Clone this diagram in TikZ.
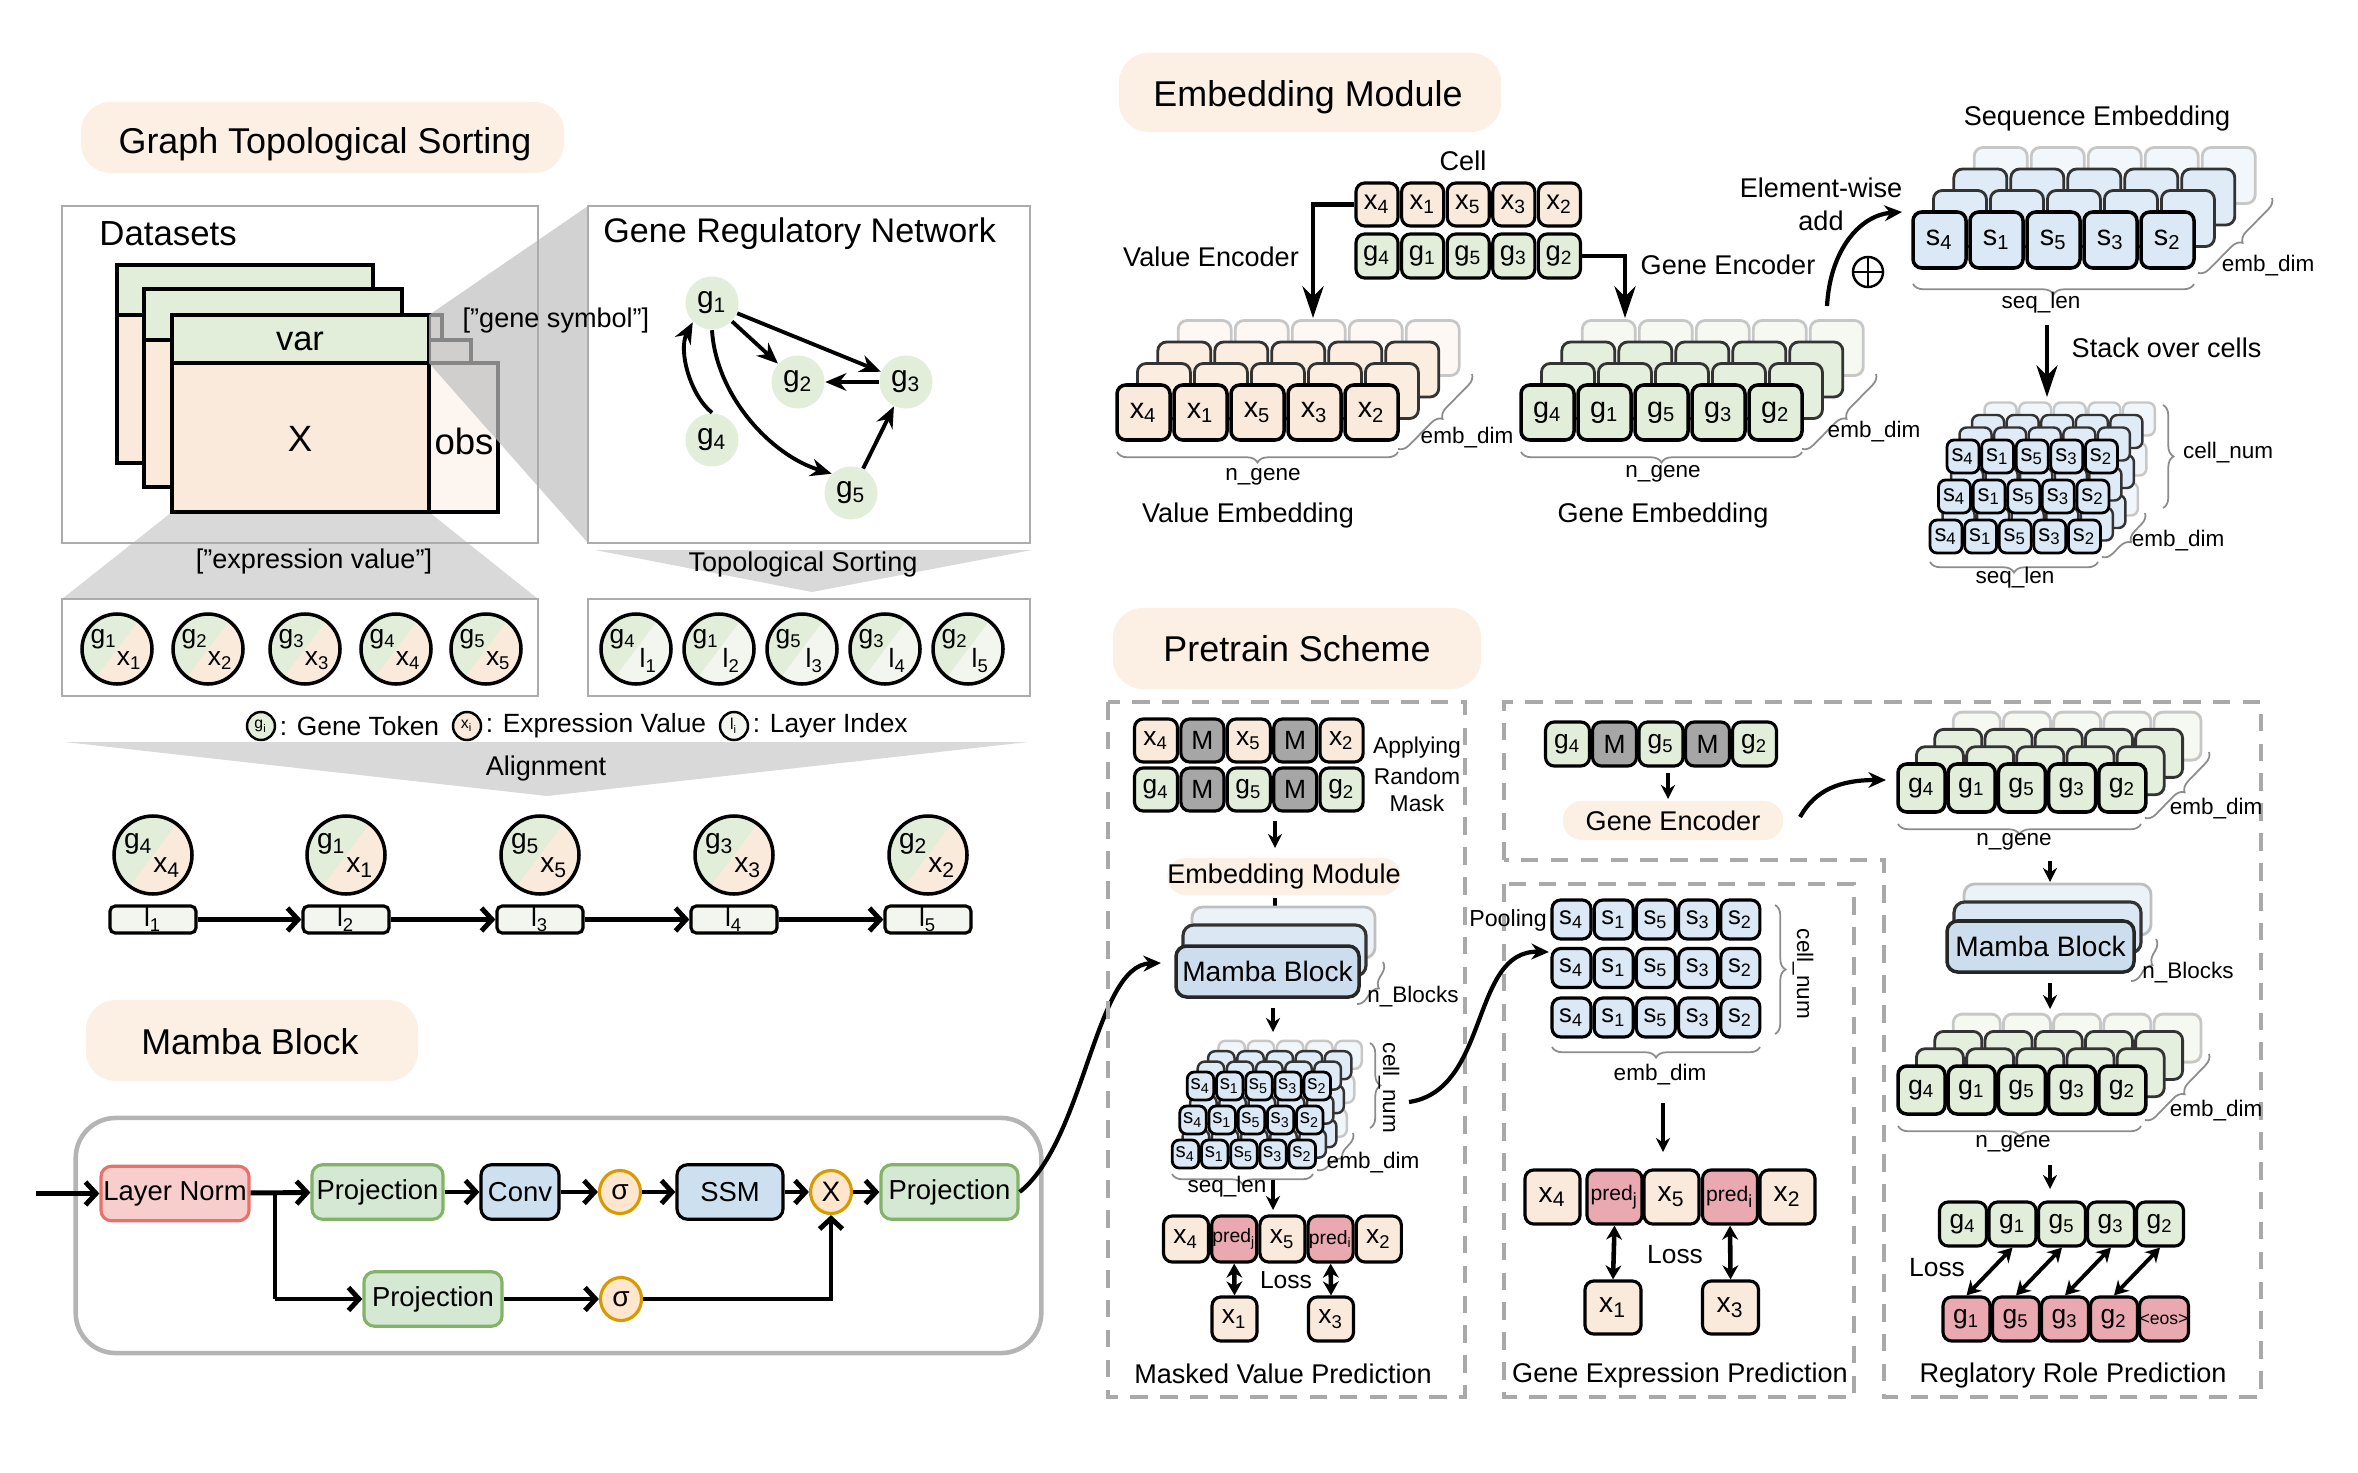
\documentclass[tikz,border=0pt]{standalone}
\usepackage{fontspec}
\setmainfont{Liberation Sans}
\usetikzlibrary{arrows.meta,shapes.geometric,decorations.pathreplacing}
\newcommand\fsz[1]{\fontsize{#1}{#1}\selectfont}
\definecolor{cPch}{HTML}{FAEADC}
\definecolor{cPill}{HTML}{FCEFE3}
\definecolor{cGrn}{HTML}{E2EDDA}
\definecolor{cLgr}{HTML}{F2F6EE}
\definecolor{cBlu}{HTML}{DBE8F5}
\definecolor{cPnk}{HTML}{EAA8B1}
\definecolor{cMsk}{HTML}{A6A6A6}
\definecolor{cObs}{HTML}{FDF5EF}
\definecolor{cFun}{HTML}{D9D9D9}
\definecolor{cBox}{HTML}{ACACAC}
\definecolor{cLnF}{HTML}{F8CECC}
\definecolor{cLnD}{HTML}{E8716C}
\definecolor{cPjF}{HTML}{D5E8D4}
\definecolor{cPjD}{HTML}{82B366}
\definecolor{cCvF}{HTML}{CCE0EF}
\definecolor{cSgF}{HTML}{FFE6CC}
\definecolor{cSgD}{HTML}{D79B00}
\definecolor{cMbF}{HTML}{CCDEEE}
\definecolor{cDash}{HTML}{A9A9A9}
\tikzset{
  lbl/.style={font=\fsz{7.7}},
  sml/.style={font=\fsz{6.4}},
  pillbox/.style={fill=cPill, rounded corners=0.3cm},
  ttl/.style={font=\fsz{10.2}},
  gbox/.style={draw=cBox, line width=0.75pt},
  card/.style={draw=black, line width=1.1pt},
  tok/.style={draw=black, line width=0.9pt, rounded corners=2.5pt, inner sep=0pt},
  grnode/.style={circle, fill=cGrn, minimum size=0.53cm, inner sep=0pt, font=\fsz{8.5}},
  grarr/.style={line width=1.1pt, -{Stealth[length=6pt,width=5pt]}},
  hvarr/.style={line width=1.4pt, line join=miter, -{Straight Barb[length=3pt,width=6.5pt]}},
  blk/.style={rounded corners=3pt, line width=0.9pt, minimum height=0.545cm, inner sep=0pt, font=\fsz{7.8}},
  sig/.style={ellipse, draw=cSgD, fill=cSgF, line width=0.9pt, minimum width=0.41cm, minimum height=0.43cm, inner sep=0pt, font=\fsz{8}},
  encarr/.style={line width=1.2pt, -{Stealth[length=9pt,width=6pt]}},
  darr/.style={line width=0.9pt, -{Stealth[length=4pt,width=4pt]}},
  dbl/.style={line width=1.3pt, {Stealth[length=4pt,width=4.5pt]}-{Stealth[length=4pt,width=4.5pt]}},
  brc/.style={decorate, decoration={brace, amplitude=3pt}, draw=black!45, line width=0.5pt},
  dbox/.style={draw=cDash, line width=1pt, dash pattern=on 5pt off 3.5pt},
  curv/.style={line width=1.2pt, -{Stealth[length=5pt,width=4.5pt]}},
  mtok/.style={tok, minimum width=0.43cm, minimum height=0.43cm, font=\fsz{7.5}},
  lgc/.style={circle, draw, line width=0.7pt, minimum size=0.28cm, inner sep=0pt, font=\fsz{4.5}},
  lgt/.style={anchor=west, font=\fsz{7.5}, inner sep=0.8pt},
}
% stacked token layers: #1 name, #2 letter, #3 colour, #4 x of first front box, #5 y
\newcommand\tokstack[5]{%
  \foreach \dd in {3,2,1}{%
    \ifnum\dd=3 \tikzset{lay/.style={draw=black!22,fill=#3!35!white}}\else\tikzset{lay/.style={draw=black!80,fill=#3!88!white}}\fi
    \foreach \i in {0,...,4}{%
      \draw[lay, line width=0.8pt, rounded corners=2.5pt] ({#4+\i*\sstep+\dd*\sdx-\sw/2},{#5+\dd*\sdy-\sh/2}) rectangle ++(\sw,\sh);
    }%
  }%
  \foreach \i/\n in {0/4,1/1,2/5,3/3,4/2}{%
    \node[tok, line width=1pt, fill=#3, minimum width=\sw*0.01cm, minimum height=\sh*0.01cm, font=\sfnt] (#1-\i) at ({#4+\i*\sstep},#5) {#2\textsubscript{\n}};
  }%
}
% cube of tokens: #1 name, #2 colour, #3 x first box row0, #4 y row0
\newcommand\tokcube[4]{%
  \foreach \dd in {3,2,1}{%
    \ifnum\dd=3 \tikzset{lay/.style={draw=black!22,fill=#2!40!white}}\else\tikzset{lay/.style={draw=black!80,fill=#2!88!white}}\fi
    \foreach \kk in {2,1,0}{%
      \foreach \i in {0,...,4}{%
        \draw[lay, line width=0.7pt, rounded corners=2pt] ({#3+\i*\cstep+\kk*\crx+\dd*\cdx-\cw/2},{#4+\kk*\cry+\dd*\cdy-\ch/2}) rectangle ++(\cw,\ch);
      }%
    }%
  }%
  \foreach \kk in {2,1,0}{%
    \foreach \i/\n in {0/4,1/1,2/5,3/3,4/2}{%
      \node[tok, line width=0.8pt, rounded corners=2pt, fill=#2, minimum width=\cw*0.01cm, minimum height=\ch*0.01cm, font=\cfnt] (#1-\kk-\i) at ({#3+\i*\cstep+\kk*\crx},{#4+\kk*\cry}) {s\textsubscript{\n}};
    }%
  }%
}
% mamba block stack
\newcommand\mstack[9]{%
  \draw[draw=black!25, fill=cMbF!40!white, line width=0.8pt, rounded corners=3pt] ({#2+#8-#4/2},{#3+#9-#5/2}) rectangle ++(#4,#5);
  \draw[draw=black!80, fill=cMbF!70!white, line width=0.9pt, rounded corners=3pt] ({#2+#6-#4/2},{#3+#7-#5/2}) rectangle ++(#4,#5);
  \node[blk, draw=black!85, line width=1pt, fill=cMbF, minimum width=#4*0.01cm, minimum height=#5*0.01cm, font=\fsz{8}] (#1) at (#2,#3) {Mamba Block};
}
% split circle: #1 name, #2 x, #3 y, #4 r, #5 colour, #6 top, #7 bottom, #8 font
\newcommand\splitc[8]{%
  \begin{scope}
    \clip (#2,#3) circle [radius=#4];
    \fill[#5] (#2-#4,#3-#4) rectangle (#2+#4,#3+#4);
    \fill[cGrn] (#2+0.75*#4,#3-#4) -- (#2-0.75*#4,#3+#4) -- (#2-#4,#3+#4) -- (#2-#4,#3-#4) -- cycle;
  \end{scope}
  \node[circle, draw, line width=1pt, minimum size=2*#4*0.01cm, inner sep=0pt] (#1) at (#2,#3) {};
  \node[font=\fsz{#8}] (#1-t) at (#2-0.37*#4,#3-0.28*#4) {#6};
  \node[font=\fsz{#8}] (#1-b) at (#2+0.36*#4,#3+0.33*#4) {#7};
}
\begin{document}
\begin{tikzpicture}[x=0.01cm,y=-0.01cm]
\path[use as bounding box] (0,0) rectangle (2358,1473);

%================ Graph Topological Sorting ================
\fill[cFun] (172,512) -- (429,512) -- (538,599) -- (62,599) -- cycle;
\fill[cFun] (595,550) -- (1032,550) -- (812,592) -- cycle;
\fill[cFun] (65,742) -- (1028,742) -- (547,796) -- cycle;
\node[pillbox, minimum width=4.83cm, minimum height=0.71cm] (tgts) at (322.5,137.5) {};
\node[ttl] (tgtst) at (325,144) {Graph Topological Sorting};

\foreach \L/\R/\T/\H/\B in {117/373/265/315/463, 144/402/289/340/487, 172/429/315/363/512}{
  \draw[card, fill=cObs] (\R,\H) rectangle (\R+69,\B);
  \draw[card, fill=cGrn] (\L,\T) rectangle (\R,\H);
  \draw[card, fill=cPch] (\L,\H) rectangle (\R,\B);
}
\fill[black!25, fill opacity=0.7] (429,315) -- (588,206) -- (588,543) -- (429,363) -- cycle;

\node[gbox, minimum width=4.76cm, minimum height=3.37cm] (dsbox) at (300,374.5) {};
\node[gbox, minimum width=4.42cm, minimum height=3.37cm] (grnbox) at (809,374.5) {};
\node[anchor=west, font=\fsz{9.9}] (dslbl) at (87,234) {Datasets};
\node[anchor=west, font=\fsz{9.7}] (grnlbl) at (591,234) {Gene Regulatory Network};
\node[font=\fsz{9.8}] (varlbl) at (300,341) {var};
\node[font=\fsz{10.4}] (xlbl) at (300,439) {X};
\node[font=\fsz{10.4}] (obslbl) at (464,441) {obs};
\node[lbl] (gslbl) at (556,320) {["gene symbol"]};
\node[lbl] (evlbl) at (314,561) {["expression value"]};

\node[grnode] (g1) at (712,303) {g\textsubscript{1}};
\node[grnode] (g2) at (798,382) {g\textsubscript{2}};
\node[grnode] (g3) at (906,382) {g\textsubscript{3}};
\node[grnode] (g4) at (712,440) {g\textsubscript{4}};
\node[grnode] (g5) at (851,493) {g\textsubscript{5}};
\draw[grarr] (g1) -- (g3);
\draw[grarr] (g1) -- (g2);
\draw[grarr] (g3) -- (g2);
\draw[grarr] (g5) -- (g3);
\draw[grarr] (g1.south) .. controls (716,395) and (770,455) .. (g5.north west);
\draw[grarr] (g4.north) .. controls (690,395) and (678,350) .. (g1.south west);

\node[gbox, minimum width=4.76cm, minimum height=0.97cm] (exbox) at (300,647.5) {};
\node[gbox, minimum width=4.42cm, minimum height=0.97cm] (lybox) at (809,647.5) {};
\node[lbl] (tslbl) at (803,564) {Topological Sorting};
\foreach \x/\n [count=\cc] in {117/1,208/2,305/3,396/4,486/5}{
  \splitc{ex\cc}{\x}{649}{35}{cPch}{g\textsubscript{\n}}{x\textsubscript{\n}}{7.5}
}
\foreach \x/\n/\l in {636/4/1,719/1/2,802/5/3,885/3/4,968/2/5}{
  \splitc{ly\l}{\x}{649}{35}{cLgr}{g\textsubscript{\n}}{l\textsubscript{\l}}{7.5}
}
% legend
\node[lgc, fill=cGrn] (lgg) at (261,726) {g\textsubscript{i}};
\node[lgt] (lgt1) at (lgg.east) {: Gene Token};
\node[lgc, fill=cPch] (lgx) at (467,726) {x\textsubscript{i}};
\node[lgt] (lgt2) at (lgx.east) {: Expression Value};
\node[lgc, fill=cLgr] (lgl) at (734,726) {l\textsubscript{i}};
\node[lgt] (lgt3) at (lgl.east) {: Layer Index};
\node[lbl] (allbl) at (546,768) {Alignment};
% aligned sequence
\foreach \x/\n [count=\cc] in {153/4,346/1,540/5,734/3,928/2}{
  \splitc{al\cc}{\x}{855}{39}{cPch}{g\textsubscript{\n}}{x\textsubscript{\n}}{8}
  \node[tok, rounded corners=1.5pt, fill=cLgr, minimum width=0.86cm, minimum height=0.27cm, font=\fsz{7.5}] (lb\cc) at (\x,919.5) {l\textsubscript{\cc}};
}
\foreach \a/\b in {1/2,2/3,3/4,4/5}{\draw[hvarr] (lb\a) -- (lb\b);}

%================ Mamba Block ================
\node[pillbox, minimum width=3.32cm, minimum height=0.81cm] (tmb) at (252,1040.5) {};
\node[ttl] (tmbt) at (250,1041.5) {Mamba Block};
\node[draw=cBox!90, line width=1.3pt, rounded corners=0.4cm, minimum width=9.65cm, minimum height=2.35cm] (mbouter) at (558.5,1235.5) {};
\node[blk, draw=cLnD, fill=cLnF, minimum width=1.48cm] (ln) at (175,1193.5) {Layer Norm};
\node[blk, draw=cPjD, fill=cPjF, minimum width=1.31cm] (pj1) at (377.5,1192) {Projection};
\node[blk, draw=black, fill=cCvF, minimum width=0.78cm] (conv) at (520,1192) {Conv};
\node[sig] (sg1) at (620,1192) {σ};
\node[blk, draw=black, fill=cCvF, minimum width=1.06cm] (ssm) at (730,1192) {SSM};
\node[sig] (mul) at (831,1192) {X};
\node[blk, draw=cPjD, fill=cPjF, minimum width=1.37cm] (pj3) at (949.5,1192) {Projection};
\node[blk, draw=cPjD, fill=cPjF, minimum width=1.38cm] (pj2) at (433,1299) {Projection};
\node[sig] (sg2) at (621,1299) {σ};
\coordinate (mbin0) at (36,1193.5);
\coordinate (br) at (275,1193.5);
\coordinate (br2) at (275,1299);
\coordinate (mj) at (831,1299);
\draw[hvarr] (mbin0) -- (ln);
\draw[hvarr] (ln) -- (pj1);
\draw[line width=1.4pt] (br) -- (br2);
\draw[hvarr] (br2) -- (pj2);
\draw[hvarr] (pj1) -- (conv);
\draw[hvarr] (conv) -- (sg1);
\draw[hvarr] (sg1) -- (ssm);
\draw[hvarr] (ssm) -- (mul);
\draw[hvarr] (mul) -- (pj3);
\draw[hvarr] (pj2) -- (sg2);
\draw[hvarr] (sg2) -- (mj) -- (mul);
\coordinate (mbin) at (1161,963);
\draw[curv] (pj3.east) .. controls (1085,1140) and (1095,965) .. (mbin);

%================ Embedding Module ================
\node[pillbox, minimum width=3.82cm, minimum height=0.79cm] (tem) at (1310,92.5) {};
\node[ttl] (temt) at (1308,97) {Embedding Module};
\node[lbl] (celllbl) at (1463,161) {Cell};
\foreach \x/\n [count=\cc] in {1377/4,1422.6/1,1468.2/5,1513.8/3,1559.4/2}{
  \node[tok, fill=cPch, minimum width=0.42cm, minimum height=0.43cm, font=\fsz{7.8}] (cx\cc) at (\x,204.5) {x\textsubscript{\n}};
  \node[tok, fill=cGrn, minimum width=0.42cm, minimum height=0.44cm, font=\fsz{7.8}] (cg\cc) at (\x,256) {g\textsubscript{\n}};
}
\coordinate (veend) at (1313,318);
\coordinate (geend) at (1625,318);
\draw[encarr] (cx1.west) -| (veend);
\draw[encarr] (cg5.east) -| (geend);
\node[lbl] (velbl) at (1211,257) {Value Encoder};
\node[lbl] (gelbl) at (1728,265) {Gene Encoder};

\def\sstep{57}\def\sw{53}\def\sh{55}\def\sdx{20.4}\def\sdy{-21.5}\def\sfnt{\fsz{8.2}}
\tokstack{ve}{x}{cPch}{1143.5}{412.5}
\tokstack{ge}{g}{cGrn}{1547.5}{412.5}
\def\sh{56}
\tokstack{se}{s}{cBlu}{1939.5}{240}

\draw[brc] (1398,452) -- (1117,452);
\node[sml] (ve-n) at (1263,477) {n\_gene};
\draw[brc] (1472,374) -- (1398,449);
\node[sml] (ve-e) at (1467,438) {emb\_dim};
\node[lbl] (vetitle) at (1248,515) {Value Embedding};
\draw[brc] (1802,452) -- (1521,452);
\node[sml] (ge-n) at (1663,474) {n\_gene};
\draw[brc] (1876,374) -- (1802,449);
\node[sml] (ge-e) at (1874,432) {emb\_dim};
\node[lbl] (getitle) at (1663,515) {Gene Embedding};

\node[lbl] (ewl1) at (1821,188) {Element-wise};
\node[lbl] (ewl2) at (1821,221) {add};
\node[circle, draw, line width=0.7pt, minimum size=0.3cm, inner sep=0pt] (oplus) at (1868,272) {};
\draw[line width=0.7pt] (oplus.north) -- (oplus.south) (oplus.west) -- (oplus.east);
\coordinate (ewa) at (1827,306);
\coordinate (ewb) at (1902,212);
\draw[curv] (ewa) .. controls (1830,250) and (1860,215) .. (ewb);

\node[lbl] (setitle) at (2097,119) {Sequence Embedding};
\draw[brc] (2194,284) -- (1913,284);
\node[sml] (se-n) at (2041,303) {seq\_len};
\draw[brc] (2272,198) -- (2198,273);
\node[sml] (se-e) at (2268,266) {emb\_dim};

\coordinate (soa) at (2047,325);
\coordinate (sob) at (2047,397);
\draw[encarr] (soa) -- (sob);
\node[lbl, anchor=west, inner sep=0pt] (solbl) at (2071,348) {Stack over cells};

\def\cstep{34.6}\def\cw{32}\def\ch{33}\def\crx{8.5}\def\cry{-40}\def\cdx{12.5}\def\cdy{-12.5}\def\cfnt{\fsz{6.8}}
\tokcube{cb}{cBlu}{1946}{536.5}
\draw[brc] (2163,405) -- (2163,508);
\node[sml] (cb-c) at (2228,453) {cell\_num};
\draw[brc] (2145,513) -- (2102,557);
\node[sml] (cb-e) at (2178,541) {emb\_dim};
\draw[brc] (2098,562) -- (1930,562);
\node[sml] (cb-s) at (2015,578) {seq\_len};

%================ Pretrain Scheme ================
\node[pillbox, minimum width=3.68cm, minimum height=0.81cm] (tps) at (1297,648.5) {};
\node[ttl] (tpst) at (1297,649) {Pretrain Scheme};
\draw[dbox] (1108,702) rectangle (1465,1397);
\draw[dbox] (1504,860) -- (1504,702) -- (2261,702) -- (2261,1397) -- (1884,1397) -- (1884,860) -- cycle;
\draw[dbox] (1504,884) rectangle (1854,1397);

% --- masked value prediction
\node[mtok, fill=cPch] (m1-1) at (1156,740.5) {x\textsubscript{4}};
\node[mtok, fill=cMsk] (m1-2) at (1202.4,740.5) {M};
\node[mtok, fill=cPch] (m1-3) at (1248.8,740.5) {x\textsubscript{5}};
\node[mtok, fill=cMsk] (m1-4) at (1295.2,740.5) {M};
\node[mtok, fill=cPch] (m1-5) at (1341.6,740.5) {x\textsubscript{2}};
\node[mtok, fill=cGrn] (m2-1) at (1156,789.5) {g\textsubscript{4}};
\node[mtok, fill=cMsk] (m2-2) at (1202.4,789.5) {M};
\node[mtok, fill=cGrn] (m2-3) at (1248.8,789.5) {g\textsubscript{5}};
\node[mtok, fill=cMsk] (m2-4) at (1295.2,789.5) {M};
\node[mtok, fill=cGrn] (m2-5) at (1341.6,789.5) {g\textsubscript{2}};
\node[font=\fsz{6.5}] (arm1) at (1417,748) {Applying};
\node[font=\fsz{6.5}] (arm2) at (1417,776) {Random};
\node[font=\fsz{6.5}] (arm3) at (1417,803) {Mask};
\coordinate (a1s) at (1275,821); \coordinate (a1e) at (1275,848);
\draw[darr] (a1s) -- (a1e);
\node[fill=cPill, rounded corners=0.18cm, minimum width=2.21cm, minimum height=0.37cm, inner sep=0pt, font=\fsz{7.7}] (pemb) at (1284,876.5) {Embedding Module};
\coordinate (a2s) at (1275,898); \coordinate (a2e) at (1275,924);
\draw[darr] (a2s) -- (a2e);
\mstack{pmb}{1267.5}{971.5}{183}{51}{7}{-21}{16}{-39}
\draw[brc] (1383,962) -- (1357,1004);
\node[sml] (pmb-n) at (1413,997) {n\_Blocks};
\coordinate (a3s) at (1273,1008); \coordinate (a3e) at (1273,1032);
\draw[darr] (a3s) -- (a3e);
\def\cstep{29.2}\def\cw{26.5}\def\ch{28}\def\crx{7.5}\def\cry{-34}\def\cdx{10.4}\def\cdy{-10.4}\def\cfnt{\fsz{5.8}}
\tokcube{pc}{cBlu}{1185.5}{1154}
\draw[brc] (1370,1043) -- (1370,1128);
\node[sml, rotate=-90] (pc-c) at (1389,1088) {cell\_num};
\draw[brc] (1353,1133) -- (1317,1170);
\node[sml] (pc-e) at (1373,1163) {emb\_dim};
\draw[brc] (1313,1174) -- (1172,1174);
\node[sml] (pc-s) at (1227,1187) {seq\_len};
\coordinate (a4s) at (1273,1180); \coordinate (a4e) at (1273,1210);
\draw[darr] (a4s) -- (a4e);
\tikzset{pv/.style={tok, minimum width=0.45cm, minimum height=0.46cm, font=\fsz{7.5}}}
\node[pv, fill=cPch] (pv1) at (1186,1239) {x\textsubscript{4}};
\node[pv, fill=cPnk, font=\fsz{5.5}] (pv2) at (1234.2,1239) {pred\textsubscript{j}};
\node[pv, fill=cPch] (pv3) at (1282.4,1239) {x\textsubscript{5}};
\node[pv, fill=cPnk, font=\fsz{5.5}] (pv4) at (1330.6,1239) {pred\textsubscript{i}};
\node[pv, fill=cPch] (pv5) at (1378.8,1239) {x\textsubscript{2}};
\node[pv, fill=cPch, minimum height=0.44cm] (pvx1) at (1234.5,1319) {x\textsubscript{1}};
\node[pv, fill=cPch, minimum height=0.44cm] (pvx3) at (1331,1319) {x\textsubscript{3}};
\draw[dbl] (pv2.south) -- (pvx1.north);
\draw[dbl] (pv4.south) -- (pvx3.north);
\node[font=\fsz{7}] (pvloss) at (1286,1280) {Loss};
\node[lbl] (pvtitle) at (1283,1374) {Masked Value Prediction};

% --- pooling curve
\coordinate (pl1) at (1409,1102);
\coordinate (pl2) at (1549,952);
\draw[curv] (pl1) .. controls (1490,1090) and (1470,950) .. (pl2);
\node[font=\fsz{6.6}] (poolbl) at (1508,920) {Pooling};

% --- gene expression prediction
\foreach \kk/\yy in {1/919.5,2/968,3/1017.5}{
  \foreach \i/\n [count=\cc] in {0/4,1/1,2/5,3/3,4/2}{
    \node[tok, fill=cBlu, minimum width=0.39cm, minimum height=0.39cm, font=\fsz{7.3}] (gx\kk-\cc) at ({1571.5+\i*42.2},\yy) {s\textsubscript{\n}};
  }
}
\draw[brc] (1775,905) -- (1775,1034);
\node[sml, rotate=-90] (gx-c) at (1803,974) {cell\_num};
\draw[brc] (1760,1047) -- (1552,1047);
\node[sml] (gx-e) at (1660,1075) {emb\_dim};
\coordinate (a5s) at (1663,1103); \coordinate (a5e) at (1663,1152);
\draw[darr] (a5s) -- (a5e);
\tikzset{pw/.style={tok, minimum width=0.55cm, minimum height=0.54cm, font=\fsz{8}}}
\node[pw, fill=cPch] (pw1) at (1552.5,1197) {x\textsubscript{4}};
\node[pw, fill=cPnk, font=\fsz{6}] (pw2) at (1614.5,1197) {pred\textsubscript{j}};
\node[pw, fill=cPch] (pw3) at (1671.5,1197) {x\textsubscript{5}};
\node[pw, fill=cPnk, font=\fsz{6}] (pw4) at (1730,1197) {pred\textsubscript{i}};
\node[pw, fill=cPch] (pw5) at (1787.5,1197) {x\textsubscript{2}};
\node[pw, fill=cPch, minimum width=0.56cm, minimum height=0.53cm] (pwx1) at (1613,1307.5) {x\textsubscript{1}};
\node[pw, fill=cPch, minimum width=0.56cm, minimum height=0.53cm] (pwx3) at (1730.5,1307.5) {x\textsubscript{3}};
\draw[dbl] (pw2.south) -- (pwx1.north);
\draw[dbl] (pw4.south) -- (pwx3.north);
\node[font=\fsz{7.5}] (pwloss) at (1675,1255) {Loss};
\node[lbl] (pwtitle) at (1680,1375) {Gene Expression Prediction};

% --- regulatory role prediction
\node[mtok, fill=cGrn, minimum width=0.44cm, minimum height=0.44cm] (rt1) at (1567.5,744) {g\textsubscript{4}};
\node[mtok, fill=cMsk, minimum width=0.44cm, minimum height=0.44cm] (rt2) at (1614.5,744) {M};
\node[mtok, fill=cGrn, minimum width=0.44cm, minimum height=0.44cm] (rt3) at (1661,744) {g\textsubscript{5}};
\node[mtok, fill=cMsk, minimum width=0.44cm, minimum height=0.44cm] (rt4) at (1707.5,744) {M};
\node[mtok, fill=cGrn, minimum width=0.44cm, minimum height=0.44cm] (rt5) at (1754.5,744) {g\textsubscript{2}};
\coordinate (a6s) at (1668,773); \coordinate (a6e) at (1668,799);
\draw[darr] (a6s) -- (a6e);
\node[fill=cPill, rounded corners=0.19cm, minimum width=2.2cm, minimum height=0.39cm, inner sep=0pt, font=\fsz{7.7}] (genc) at (1673,820.5) {Gene Encoder};
\coordinate (gc1) at (1800,817);
\coordinate (gc2) at (1886,780);
\draw[curv] (gc1) .. controls (1815,790) and (1840,780) .. (gc2);

\def\sstep{50.2}\def\sw{47}\def\sh{48}\def\sdx{18.4}\def\sdy{-17.3}\def\sfnt{\fsz{7.6}}
\tokstack{rs1}{g}{cGrn}{1921.5}{788}
\draw[brc] (2141,824) -- (1898,824);
\node[sml] (rs1-n) at (2014,842) {n\_gene};
\draw[brc] (2209,752) -- (2145,818);
\node[sml] (rs1-e) at (2216,809) {emb\_dim};
\coordinate (a7s) at (2050,861); \coordinate (a7e) at (2050,882);
\draw[darr] (a7s) -- (a7e);
\mstack{rmb}{2040.5}{946.5}{187}{51}{7}{-19}{17}{-37}
\draw[brc] (2156,939) -- (2131,981);
\node[sml] (rmb-n) at (2188,973) {n\_Blocks};
\coordinate (a8s) at (2050,983); \coordinate (a8e) at (2050,1009);
\draw[darr] (a8s) -- (a8e);
\tokstack{rs2}{g}{cGrn}{1921.5}{1090}
\draw[brc] (2141,1126) -- (1898,1126);
\node[sml] (rs2-n) at (2013,1144) {n\_gene};
\draw[brc] (2209,1054) -- (2145,1120);
\node[sml] (rs2-e) at (2216,1111) {emb\_dim};
\coordinate (a9s) at (2050,1165); \coordinate (a9e) at (2050,1189);
\draw[darr] (a9s) -- (a9e);
\tikzset{rr/.style={tok, minimum width=0.47cm, minimum height=0.44cm, font=\fsz{7.5}}}
\foreach \x/\n [count=\cc] in {1963/4,2012.5/1,2062/5,2111/3,2160/2}{
  \node[rr, fill=cGrn] (rg\cc) at (\x,1224) {g\textsubscript{\n}};
}
\foreach \x/\n [count=\cc] in {1966.5/1,2016/5,2065/3,2114/2}{
  \node[rr, fill=cPnk] (rp\cc) at (\x,1319) {g\textsubscript{\n}};
}
\node[rr, fill=cPnk, font=\fsz{5}] (rp5) at (2164,1319) {<eos>};
\foreach \a/\b in {1/2,2/3,3/4,4/5}{\draw[dbl, line width=1.1pt] (rp\a.north) -- (rg\b.south);}
\node[font=\fsz{7.5}] (rrloss) at (1937,1268) {Loss};
\node[lbl] (rrtitle) at (2073,1375) {Reglatory Role Prediction};
\end{tikzpicture}
\end{document}
